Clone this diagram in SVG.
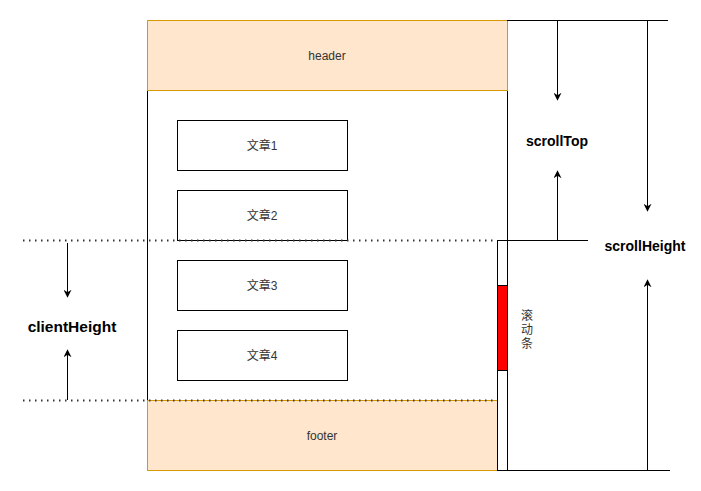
<svg xmlns="http://www.w3.org/2000/svg" width="701" height="491" viewBox="0 0 701 491">
<defs>
<marker id="arr" viewBox="0 0 10 10" refX="9" refY="5" markerWidth="8" markerHeight="8" markerUnits="userSpaceOnUse" orient="auto">
<path d="M0,0 L10,5 L0,10 L3,5 Z" fill="#000"/>
</marker>
</defs>
<style>
.t{font-family:"Liberation Sans",Arial,"Noto Sans CJK SC",sans-serif;font-size:12px;fill:#333;text-anchor:middle;dominant-baseline:central}
.b{font-family:"Liberation Sans",Arial,sans-serif;font-size:14px;font-weight:bold;fill:#000;text-anchor:middle;dominant-baseline:central}
.art{fill:#fff;stroke:#000;stroke-width:1}
.ln{stroke:#000;stroke-width:1;fill:none}
.dot{stroke:#333;stroke-width:2;stroke-dasharray:1.5 4.5;fill:none}
</style>
<g id="container"><rect x="147.5" y="20.5" width="360" height="450" fill="#fff" stroke="#000"/></g>
<g id="header"><rect x="147.5" y="20.5" width="360" height="70" fill="#ffe6cc" stroke="#d79b00"/><text class="t" x="327" y="56">header</text></g>
<g id="a1"><rect class="art" x="177.5" y="120.5" width="170" height="50"/><text class="t" x="262" y="146">文章1</text></g>
<g id="a2"><rect class="art" x="177.5" y="190.5" width="170" height="50"/><text class="t" x="262" y="216">文章2</text></g>
<g id="a3"><rect class="art" x="177.5" y="260.5" width="170" height="50"/><text class="t" x="262" y="286">文章3</text></g>
<g id="a4"><rect class="art" x="177.5" y="330.5" width="170" height="50"/><text class="t" x="262" y="356">文章4</text></g>
<g id="footer"><rect x="147.5" y="400.5" width="350" height="70" fill="#ffe6cc" stroke="#d79b00"/><text class="t" x="322" y="436">footer</text></g>
<g id="scrollbar"><rect x="497.5" y="240.5" width="10" height="230" fill="#fff" stroke="#000"/><rect x="497.5" y="285.5" width="10" height="85" fill="#ff0000" stroke="#000"/>
<text class="t" x="527" y="316">滚</text><text class="t" x="527" y="330">动</text><text class="t" x="527" y="344">条</text></g>
<g id="labels">
<text class="b" x="557" y="141">scrollTop</text>
<text class="b" x="645" y="246">scrollHeight</text>
<text class="b" x="72" y="326" style="font-size:15.5px">clientHeight</text>
</g>
<g id="connectors">
<line class="dot" x1="23" y1="240.5" x2="497" y2="240.5"/>
<line class="dot" x1="23" y1="400.5" x2="497" y2="400.5"/>
<line class="ln" x1="507" y1="20.5" x2="668" y2="20.5"/>
<line class="ln" x1="507" y1="240.5" x2="588" y2="240.5"/>
<line class="ln" x1="507" y1="470.5" x2="670" y2="470.5"/>
<line class="ln" x1="557.5" y1="20.5" x2="557.5" y2="100" marker-end="url(#arr)"/>
<line class="ln" x1="557.5" y1="240.5" x2="557.5" y2="171" marker-end="url(#arr)"/>
<line class="ln" x1="647.5" y1="20.5" x2="647.5" y2="211" marker-end="url(#arr)"/>
<line class="ln" x1="647.5" y1="470.5" x2="647.5" y2="280" marker-end="url(#arr)"/>
<line class="ln" x1="67.5" y1="243" x2="67.5" y2="297" marker-end="url(#arr)"/>
<line class="ln" x1="67.5" y1="400" x2="67.5" y2="350" marker-end="url(#arr)"/>
</g>
</svg>
